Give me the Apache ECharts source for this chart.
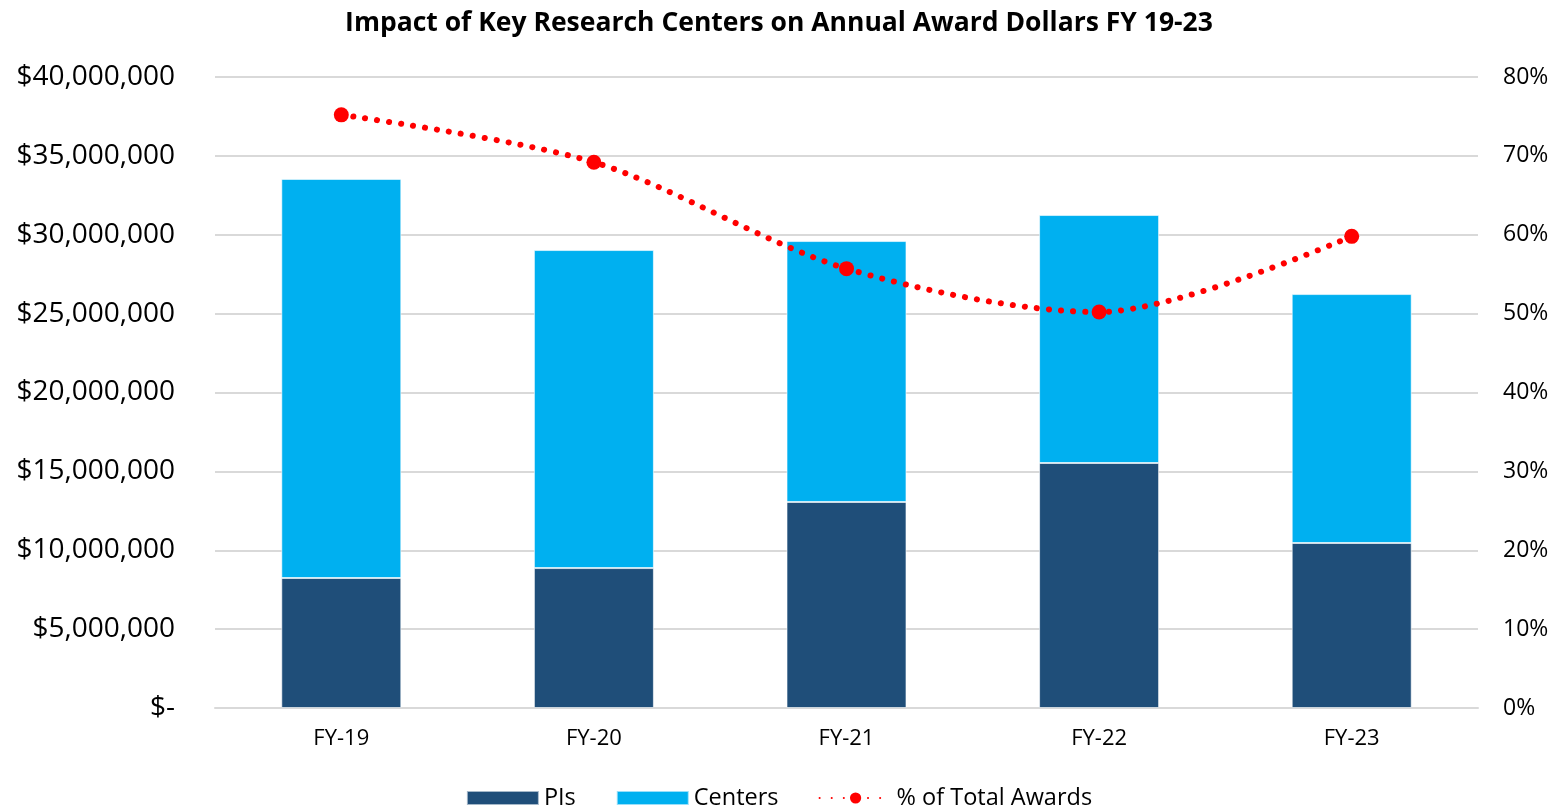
<!DOCTYPE html>
<html>
<head>
<meta charset="utf-8">
<script src="https://cdn.jsdelivr.net/npm/echarts@6/dist/echarts.min.js"></script>
<style>
  html, body { margin: 0; padding: 0; background: #fff; }
  #chart { width: 1558px; height: 812px; }
</style>
</head>
<body>
<div id="chart"></div>
<script>
// values
const categories = ['FY-19', 'FY-20', 'FY-21', 'FY-22', 'FY-23']
const pis = [8240000, 8870000, 13060000, 15530000, 10460000]
const centers = [25300000, 20160000, 16540000, 15720000, 15780000]
const pctTotal = [75.2, 69.2, 55.7, 50.2, 59.8]

const font = 'Open Sans, Liberation Sans, sans-serif'

const chart = echarts.init(document.getElementById('chart'))

function money (v) {
  if (v === 0) return '$-'
  return '$' + v.toLocaleString('en-US')
}

chart.setOption({
  animation: false,
  title: {
    text: 'Impact of Key Research Centers on Annual Award Dollars FY 19-23',
    left: 'center',
    top: 5,
    textStyle: { fontFamily: font, fontSize: 26.5, fontWeight: 'bold', color: '#000' }
  },
  legend: {
    bottom: -3,
    itemGap: 40,
    itemWidth: 72,
    itemHeight: 14,
    textStyle: { fontFamily: font, fontSize: 23.5, color: '#000' },
    data: [
      { name: 'PIs', icon: 'rect' },
      { name: 'Centers', icon: 'rect' },
      { name: '% of Total Awards' }
    ]
  },
  grid: { left: 215, right: 80, top: 77, bottom: 104 },
  xAxis: {
    type: 'category',
    data: categories,
    axisTick: { show: false },
    axisLine: { lineStyle: { color: '#d9d9d9', width: 2 } },
    axisLabel: { fontFamily: font, fontSize: 22, color: '#000', margin: 20 }
  },
  yAxis: [
    {
      type: 'value',
      min: 0,
      max: 40000000,
      interval: 5000000,
      axisLabel: { fontFamily: font, fontSize: 28, color: '#000', margin: 40, formatter: money },
      splitLine: { lineStyle: { color: '#d9d9d9', width: 2 } }
    },
    {
      type: 'value',
      min: 0,
      max: 80,
      interval: 10,
      axisLabel: { fontFamily: font, fontSize: 23, color: '#000', margin: 25, formatter: '{value}%' },
      splitLine: { show: false }
    }
  ],
  series: [
    {
      name: 'PIs',
      type: 'bar',
      stack: 'total',
      barWidth: '47.5%',
      data: pis,
      itemStyle: { color: '#1f4e79', borderColor: 'rgba(255,255,255,0.6)', borderWidth: 1 }
    },
    {
      name: 'Centers',
      type: 'bar',
      stack: 'total',
      data: centers,
      itemStyle: { color: '#00b0f0', borderColor: 'rgba(255,255,255,0.6)', borderWidth: 1 }
    },
    {
      name: '% of Total Awards',
      type: 'line',
      yAxisIndex: 1,
      smooth: 0.3,
      data: pctTotal,
      symbol: 'circle',
      symbolSize: 15,
      itemStyle: { color: '#ff0000' },
      lineStyle: { color: '#ff0000', width: 6, type: [0.1, 12], cap: 'round' }
    }
  ]
})
</script>
</body>
</html>
